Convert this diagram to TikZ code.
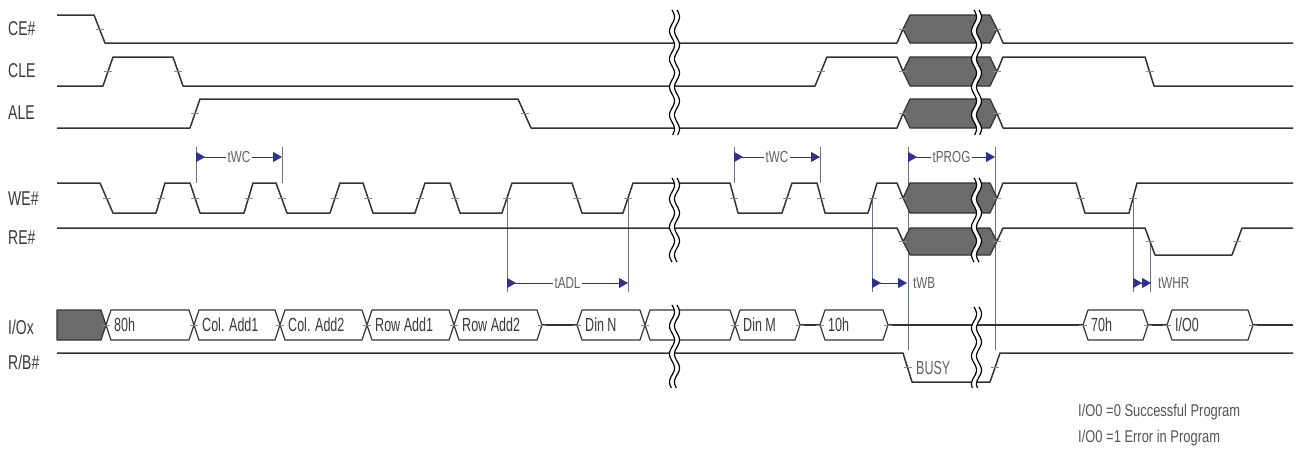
\documentclass[tikz,border=0pt]{standalone}
\usepackage{fontspec}
\setmainfont{Liberation Sans}
\newfontfamily\sigfont{Liberation Sans}[FakeStretch=0.7]
\newfontfamily\busfont{Liberation Sans}[FakeStretch=0.66]
\newfontfamily\dimfont{Liberation Sans}[FakeStretch=0.73]
\newfontfamily\legfont{Liberation Sans}[FakeStretch=0.76]
\usetikzlibrary{arrows.meta}
\definecolor{sigc}{HTML}{333333}
\definecolor{tickc}{HTML}{8A8A8A}
\definecolor{refc}{HTML}{6E7088}
\definecolor{arrc}{HTML}{2E3192}
\definecolor{fillg}{HTML}{6B6B6B}
\definecolor{textc}{HTML}{3A3A3A}
\definecolor{dimtc}{HTML}{606070}
\definecolor{legc}{HTML}{555555}
\tikzset{
  sig/.style={draw=sigc, line width=1.5pt, line join=round},
  tkline/.style={draw=tickc, line width=0.7pt},
  busbox/.style={draw=sigc, line width=1.2pt, fill=white, line join=round},
  graybox/.style={draw=sigc, line width=1.2pt, fill=fillg, line join=round},
  vref/.style={draw=refc, line width=0.7pt},
  dimarr/.style={draw=arrc, line width=0.9pt,
    {Triangle[reversed,width=10pt,length=9pt]}-{Triangle[width=10pt,length=9pt]}},
  dimlbl/.style={fill=white, inner sep=1.5pt, text=dimtc,
    font=\dimfont\fontsize{16}{18}\selectfont},
  dimside/.style={anchor=west, inner sep=1pt, text=dimtc,
    font=\dimfont\fontsize{16}{18}\selectfont},
  siglbl/.style={anchor=west, inner sep=0pt, text=textc,
    font=\sigfont\fontsize{20}{22}\selectfont},
  buslbl/.style={anchor=west, inner sep=0pt, text=textc,
    font=\busfont\fontsize{19}{21}\selectfont},
  leglbl/.style={anchor=west, inner sep=0pt, text=legc,
    font=\legfont\fontsize{17}{19}\selectfont},
  brkline/.style={draw=black, line width=1.2pt}
}
\newcommand{\tk}[2]{\draw[tkline] ({#1-4},#2) -- ({#1+4},#2);}
\newcommand{\busseg}[4]{%
  \draw[busbox] (#2,325) -- ({#2+5},310) -- ({#3-5},310) -- (#3,325) -- ({#3-5},340) -- ({#2+5},340) -- cycle;
  \node[buslbl] (#1) at ({#2+8},325) {#4};}
\newcommand{\grayhex}[2]{%
  \draw[graybox] (903,{(#1+#2)/2}) -- (910,#1) -- (990,#1) -- (997,{(#1+#2)/2}) -- (990,#2) -- (910,#2) -- cycle;}
\newcommand{\brkmark}[3]{%
  \fill[white] plot[domain=#2:#3,samples=60,variable=\t] ({#1+2.5*sin(12.857*(\t-#2))},\t)
    -- plot[domain=#3:#2,samples=60,variable=\t] ({#1+5+2.5*sin(12.857*(\t-#2))},\t) -- cycle;
  \draw[brkline] plot[domain=#2:#3,samples=60,variable=\t] ({#1+2.5*sin(12.857*(\t-#2))},\t);
  \draw[brkline] plot[domain=#2:#3,samples=60,variable=\t] ({#1+5+2.5*sin(12.857*(\t-#2))},\t);}
\begin{document}
\begin{tikzpicture}[x=1pt,y=-1pt]
\useasboundingbox (0,0) rectangle (1300,450);
\fill[white] (0,0) rectangle (1300,450);

% signal names
\node[siglbl] (lce)  at (8,29)  {CE\#};
\node[siglbl] (lcle) at (8,71)  {CLE};
\node[siglbl] (lale) at (8,113) {ALE};
\node[siglbl] (lwe)  at (8,199) {WE\#};
\node[siglbl] (lre)  at (8,238) {RE\#};
\node[siglbl] (lio)  at (8,327) {I/Ox};
\node[siglbl] (lrb)  at (8,362) {R/B\#};

% reference (timing) lines
\draw[vref] (196,147) -- (196,183);
\draw[vref] (282,147) -- (282,183);
\draw[vref] (734,147) -- (734,183);
\draw[vref] (820,147) -- (820,183);
\draw[vref] (908,147) -- (908,350);
\draw[vref] (995,147) -- (995,350);
\draw[vref] (507,198) -- (507,292);
\draw[vref] (628,198) -- (628,292);
\draw[vref] (872,198) -- (872,292);
\draw[vref] (1133,198) -- (1133,292);
\draw[vref] (1150,241) -- (1150,292);

% CE#
\draw[sig] (57,15) -- (94,15) -- (105,43) -- (897,43) -- (903,29);
\draw[sig] (997,29) -- (1003,43) -- (1293,43);
\tk{99.5}{29}
% CLE
\draw[sig] (57,86) -- (103,86) -- (113,57) -- (173,57) -- (183,86) -- (815,86) -- (827,57) -- (897,57) -- (903,71.5);
\draw[sig] (997,71.5) -- (1003,57) -- (1145,57) -- (1154,86) -- (1293,86);
\tk{108}{71.5} \tk{178}{71.5} \tk{821}{71.5} \tk{1149.5}{71.5}
% ALE
\draw[sig] (57,128) -- (190,128) -- (200,99) -- (518,99) -- (531,128) -- (897,128) -- (903,113.5);
\draw[sig] (997,113.5) -- (1003,128) -- (1293,128);
\tk{195}{113.5} \tk{524.5}{113.5}
% WE#
\draw[sig] (57,183) -- (100,183) -- (113,213) -- (156,213) -- (165,183) -- (190,183) -- (200,213)
  -- (244,213) -- (253,183) -- (276,183) -- (287,213) -- (330,213) -- (340,183) -- (363,183)
  -- (373,213) -- (415,213) -- (425,183) -- (450,183) -- (460,213) -- (502,213) -- (512,183)
  -- (572,183) -- (582,213) -- (623,213) -- (633,183) -- (730,183) -- (738,213) -- (782,213)
  -- (792,183) -- (817,183) -- (825,213) -- (868,213) -- (877,183) -- (897,183) -- (903,198);
\draw[sig] (997,198) -- (1003,183) -- (1076,183) -- (1085,213) -- (1129,213) -- (1137,183) -- (1293,183);
\foreach \m in {106.5,160.5,195,248.5,281.5,335,368,420,455,507,577,628,734,787,821,872.5,1080.5,1133}
  {\tk{\m}{198}}
% RE#
\draw[sig] (57,228) -- (897,228) -- (903,241);
\draw[sig] (997,241) -- (1003,228) -- (1145,228) -- (1155,255) -- (1232,255) -- (1242,228) -- (1293,228);
\tk{1150}{241.5} \tk{1237}{241.5}

% gray (don't care) regions
\grayhex{15}{43}
\grayhex{57}{86}
\grayhex{99}{128}
\grayhex{183}{213}
\grayhex{228}{255}
\foreach \yy in {29,71.5,113.5,198,241.5} {\tk{903}{\yy} \tk{997}{\yy}}

% I/Ox bus
\draw[graybox] (57,310) -- (101,310) -- (106,325) -- (101,340) -- (57,340) -- cycle;
\busseg{b80}{106}{194}{80h}
\busseg{bca1}{194}{280}{Col. Add1}
\busseg{bca2}{280}{367}{Col. Add2}
\busseg{bra1}{367}{454}{Row Add1}
\busseg{bra2}{454}{542}{Row Add2}
\draw[sig, line width=1.2pt] (542,325) -- (577,325);
\busseg{bdn}{577}{645}{Din N}
\busseg{bmid}{645}{735}{}
\busseg{bdm}{735}{800}{Din M}
\draw[sig, line width=1.2pt] (800,325) -- (820,325);
\busseg{b10}{820}{888}{10h}
\draw[sig, line width=1.2pt] (888,325) -- (1083,325);
\busseg{b70}{1083}{1148}{70h}
\draw[sig, line width=1.2pt] (1148,325) -- (1167,325);
\busseg{bio}{1167}{1253}{I/O0}
\draw[sig, line width=1.2pt] (1253,325) -- (1293,325);
\foreach \m in {106,194,280,367,454,542,577,645,735,800,820,888,1083,1148,1167,1253}
  {\tk{\m}{325}}

% R/B#
\draw[sig] (57,353) -- (903,353) -- (912,382) -- (990,382) -- (1000,353) -- (1293,353);
\tk{907.5}{367.5} \tk{995}{367.5}
\node[buslbl, text=dimtc] (busy) at (916,368) {BUSY};

% timing arrows
\coordinate (wc1a) at (196,157); \coordinate (wc1b) at (282,157);
\coordinate (wc2a) at (734,157); \coordinate (wc2b) at (820,157);
\coordinate (pga) at (908,157);  \coordinate (pgb) at (995,157);
\coordinate (adla) at (507,283); \coordinate (adlb) at (628,283);
\coordinate (wba) at (872,283);  \coordinate (wbb) at (907,283);
\coordinate (whra) at (1133,283); \coordinate (whrb) at (1151,283);
\draw[dimarr] (wc1a) -- node[dimlbl] (twc1) {tWC} (wc1b);
\draw[dimarr] (wc2a) -- node[dimlbl] (twc2) {tWC} (wc2b);
\draw[dimarr] (pga) -- node[dimlbl] (tprog) {tPROG} (pgb);
\draw[dimarr] (adla) -- node[dimlbl] (tadl) {tADL} (adlb);
\draw[dimarr] (wba) -- (wbb);
\node[dimside] (twb) at (912,283) {tWB};
\draw[dimarr] (whra) -- (whrb);
\node[dimside] (twhr) at (1157,283) {tWHR};

% breaks
\brkmark{672}{10}{135}
\brkmark{672}{178}{262}
\brkmark{672}{305}{388}
\brkmark{974}{10}{135}
\brkmark{974}{178}{262}
\brkmark{974}{307}{388}

% legend
\node[leglbl] (leg1) at (1078,412) {I/O0 =0 Successful Program};
\node[leglbl] (leg2) at (1078,438) {I/O0 =1 Error in Program};
\end{tikzpicture}
\end{document}
